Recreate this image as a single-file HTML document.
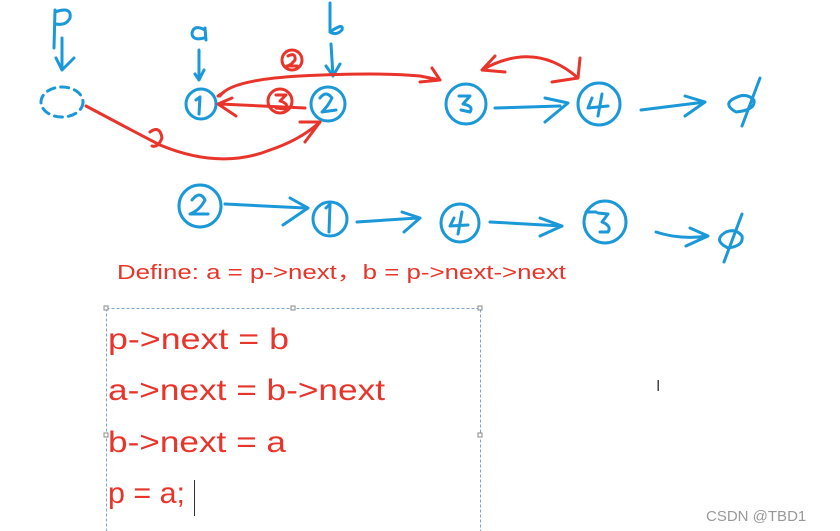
<!DOCTYPE html>
<html><head><meta charset="utf-8"><style>
html,body{margin:0;padding:0;background:#fff;}
svg{display:block;}
</style></head><body>
<svg width="840" height="531" viewBox="0 0 840 531" xmlns="http://www.w3.org/2000/svg">
<g fill="none" stroke="#1a98d8" stroke-width="3" stroke-linecap="round" stroke-linejoin="round">
<path d="M55 10 L54 48 M55 12 Q72 6 70 18 Q66 26 56 24"/>
<path d="M62 38 L62 70 M56 58 L62 70 L74 58"/>
<ellipse cx="62" cy="102" rx="21" ry="15" stroke-dasharray="8 6"/>
<path d="M205 30 Q194 24 192 33 Q192 41 204 38 M205 28 L206 40"/>
<path d="M199 50 L199 80 M195 74 L199 80 L204 70"/>
<circle cx="201" cy="104" r="15"/>
<path d="M196 100 L200 97 L199 114"/>
<path d="M330 3 L330 32 Q344 22 342 30 Q336 36 330 32"/>
<path d="M331 44 L333 76 M326 66 L333 76 L340 64"/>
<circle cx="328" cy="104" r="17"/>
<path d="M320 98 Q326 90 332 98 Q328 106 322 112 L336 110"/>
<circle cx="466" cy="104" r="20"/>
<path d="M459 96 L470 96 L463 104 Q474 106 470 112 L461 110"/>
<path d="M495 108 L560 106 M545 98 L568 103 L545 122"/>
<circle cx="599" cy="104" r="21"/>
<path d="M592 98 L588 108 L608 106 M602 94 L598 116"/>
<path d="M641 110 L705 102 M685 96 L705 102 L685 116"/>
<path d="M735 98 Q722 104 736 112 Q756 110 754 100 Q746 92 735 98 M760 78 L742 126"/>
<circle cx="200" cy="206" r="21"/>
<path d="M192 200 Q200 190 205 200 Q200 210 190 214 L208 214"/>
<path d="M225 204 L305 208 M290 198 L308 208 L283 225"/>
<circle cx="330" cy="219" r="17"/>
<path d="M326 208 L330 204 L329 232"/>
<path d="M357 222 L418 218 M402 212 L420 218 L404 232"/>
<circle cx="460" cy="223" r="19"/>
<path d="M454 218 L450 226 L468 225 M462 212 L458 234"/>
<path d="M490 222 L562 226 M540 218 L562 226 L540 236"/>
<circle cx="605" cy="222" r="21"/>
<path d="M586 212 L596 212 M598 213 L608 214 L602 222 Q612 226 608 232 L600 232"/>
<path d="M656 232 Q680 240 708 236 M690 228 L708 236 L686 246"/>
<path d="M726 232 Q712 240 728 248 Q744 246 742 236 Q736 228 726 232 M742 214 L724 262"/>
</g>
<g fill="none" stroke="#e8342a" stroke-width="3" stroke-linecap="round" stroke-linejoin="round">
<path d="M86 106 Q150 140 160 145 Q220 170 270 150 Q300 140 320 122"/>
<path d="M300 122 L320 122 L305 142"/>
<path d="M150 132 Q160 125 162 138 Q158 148 152 146"/>
<path d="M220 96 Q230 80 300 76 Q380 72 420 76 L440 80"/>
<path d="M432 68 L440 80 L420 82"/>
<path d="M218 96 L224 92"/>
<circle cx="292" cy="60" r="10"/>
<path d="M288 56 Q296 52 295 60 Q290 66 287 66 L297 66"/>
<path d="M305 108 L220 104 M232 98 L218 104 L236 116"/>
<circle cx="280" cy="101" r="12"/>
<path d="M276 95 L286 95 L280 101 Q290 104 285 109 L276 108"/>
<path d="M482 70 Q535 40 578 78 M495 56 L482 70 L505 72 M580 58 L578 78 L552 82"/>
</g>
<text x="117" y="279" font-family="Liberation Sans, sans-serif" font-size="20" fill="#e8342a" textLength="449" lengthAdjust="spacingAndGlyphs">Define: a = p-&gt;next，b = p-&gt;next-&gt;next</text>
<rect x="106.5" y="308.5" width="374" height="240" fill="none" stroke="#7fa4c8" stroke-width="1" stroke-dasharray="3 2"/>
<g fill="#fff" stroke="#888" stroke-width="1">
<rect x="104" y="306" width="4" height="4"/><rect x="291" y="306" width="4" height="4"/><rect x="478" y="306" width="4" height="4"/>
<rect x="104" y="433" width="4" height="4"/><rect x="478" y="433" width="4" height="4"/>
</g>
<g font-family="Liberation Sans, sans-serif" font-size="30" fill="#e8342a" lengthAdjust="spacingAndGlyphs">
<text x="108" y="349" textLength="181" lengthAdjust="spacingAndGlyphs">p-&gt;next = b</text>
<text x="108" y="400" textLength="277" lengthAdjust="spacingAndGlyphs">a-&gt;next = b-&gt;next</text>
<text x="108" y="452" textLength="178" lengthAdjust="spacingAndGlyphs">b-&gt;next = a</text>
<text x="108" y="503" textLength="77" lengthAdjust="spacingAndGlyphs">p = a;</text>
</g>
<line x1="194.5" y1="480" x2="194.5" y2="516" stroke="#333" stroke-width="1"/>
<text x="656" y="391" font-family="Liberation Sans, sans-serif" font-size="16" fill="#444">I</text>
<text x="706" y="521" font-family="Liberation Sans, sans-serif" font-size="15" fill="#999">CSDN @TBD1</text>
</svg>
</body></html>
